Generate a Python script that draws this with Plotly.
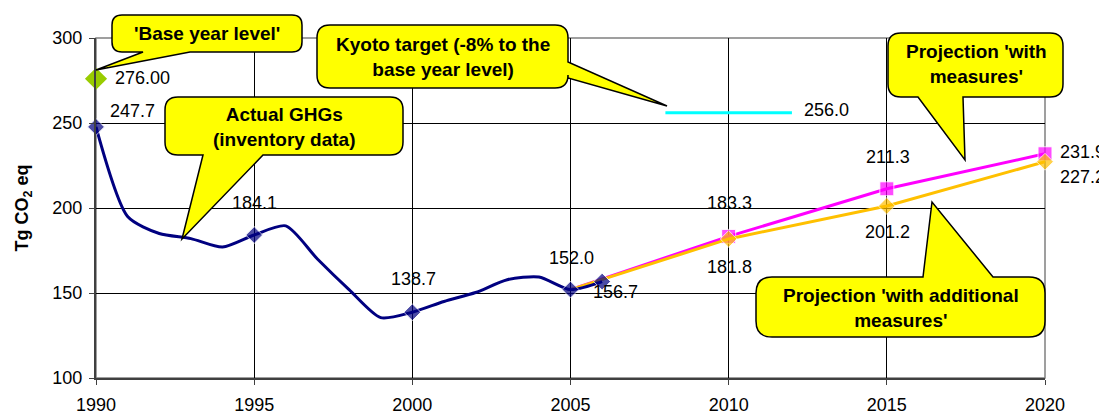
import plotly.graph_objects as go

# ---------------- data ----------------
YEARS_ACTUAL = list(range(1990, 2007))
GHG_ACTUAL = [247.7, 195.0, 185.0, 182.0, 177.0, 184.1, 189.5, 170.0, 152.0,
              135.5, 138.7, 145.0, 150.3, 157.8, 159.4, 152.0, 156.7]
LABELED_YEARS = [1990, 1995, 2000, 2005, 2006]

PROJ_YEARS = [2005, 2010, 2015, 2020]
WITH_MEASURES = [152.0, 183.3, 211.3, 231.9]
WITH_ADDITIONAL = [152.0, 181.8, 201.2, 227.2]

BASE_YEAR = [1990]
BASE_LEVEL = [276.00]

KYOTO_YEARS = [2008, 2012]
KYOTO_LEVEL = [256.0, 256.0]

X_TICKS = [1990, 1995, 2000, 2005, 2010, 2015, 2020]
Y_TICKS = [100, 150, 200, 250, 300]

CALLOUT_TEXTS = ["'Base year level'",
                 "Kyoto target (-8% to the<br>base year level)",
                 "Actual GHGs<br>(inventory data)",
                 "Projection 'with<br>measures'",
                 "Projection 'with additional<br>measures'"]

# ---------------- layout geometry (window pixels) ----------------
WIN_W, WIN_H = 1107, 414
OFF = 8                      # default page body margin
W_FIG, H_FIG = WIN_W - OFF, WIN_H - OFF
L, R, T, B = 96, 1045, 38, 378   # plot area in window pixels
PW, PH = R - L, B - T
FONT = "Liberation Sans, Arial, sans-serif"


def p(x, y):
    return (x - L) / PW, (B - y) / PH


def callout_path(x0, y0, x1, y1, r, side, a, b, tip):
    pts = []

    def M(x, y):
        pts.append("M%.5f,%.5f" % p(x, y))

    def Lt(x, y):
        pts.append("L%.5f,%.5f" % p(x, y))

    def Q(cx, cy, x, y):
        c = p(cx, cy)
        e = p(x, y)
        pts.append("Q%.5f,%.5f %.5f,%.5f" % (c[0], c[1], e[0], e[1]))

    M(x0 + r, y0)
    if side == "top":
        Lt(a, y0); Lt(*tip); Lt(b, y0)
    Lt(x1 - r, y0); Q(x1, y0, x1, y0 + r)
    if side == "right":
        Lt(x1, a); Lt(*tip); Lt(x1, b)
    Lt(x1, y1 - r); Q(x1, y1, x1 - r, y1)
    if side == "bottom":
        Lt(b, y1); Lt(*tip); Lt(a, y1)
    Lt(x0 + r, y1); Q(x0, y1, x0, y1 - r)
    Lt(x0, y0 + r); Q(x0, y0, x0 + r, y0)
    pts.append("Z")
    return " ".join(pts)


# box (x0,y0,x1,y1), radius, pointer side, a, b, tip, text centre
CALLOUTS = [
    ((112, 15, 302, 52), 10, "bottom", 143, 190, (96, 70), (207, 33.5)),
    ((317, 25, 568, 88), 13, "right", 62, 78, (667, 106), (442.5, 57)),
    ((165, 97, 403, 155), 13, "bottom", 203, 263, (182, 239), (284.5, 127)),
    ((888, 33, 1063, 97), 13, "bottom", 918, 963, (965, 160), (976, 64.5)),
    ((756, 277, 1045, 337), 16, "top", 923, 993, (932, 202), (900.5, 307.5)),
]

fig = go.Figure()

# projections
fig.add_trace(go.Scatter(
    x=PROJ_YEARS, y=WITH_MEASURES, mode="lines+markers",
    line=dict(color="#FF00FF", width=3),
    marker=dict(symbol="square", size=[0 if yr == 2005 else 14 for yr in PROJ_YEARS],
                color="#FF00FF"),
    cliponaxis=False, showlegend=False, hoverinfo="skip"))
fig.add_trace(go.Scatter(
    x=PROJ_YEARS, y=WITH_ADDITIONAL, mode="lines+markers",
    line=dict(color="#FFC000", width=3),
    marker=dict(symbol="diamond", size=[0 if yr == 2005 else 13 for yr in PROJ_YEARS],
                color="#FFC000"),
    cliponaxis=False, showlegend=False, hoverinfo="skip"))

# actual inventory
fig.add_trace(go.Scatter(
    x=YEARS_ACTUAL, y=GHG_ACTUAL, mode="lines+markers",
    line=dict(color="#000080", width=3, shape="spline", smoothing=0.7),
    marker=dict(symbol="diamond",
                size=[13 if yr in LABELED_YEARS else 0 for yr in YEARS_ACTUAL],
                color="#000080"),
    cliponaxis=False, showlegend=False, hoverinfo="skip"))

# base year
fig.add_trace(go.Scatter(
    x=BASE_YEAR, y=BASE_LEVEL, mode="markers",
    marker=dict(symbol="diamond", size=17, color="#99CC00"),
    cliponaxis=False, showlegend=False, hoverinfo="skip"))

# kyoto target
fig.add_trace(go.Scatter(
    x=KYOTO_YEARS, y=KYOTO_LEVEL, mode="lines",
    line=dict(color="#00FFFF", width=3),
    cliponaxis=False, showlegend=False, hoverinfo="skip"))

shapes = []
# plot-area border (top/right grey)
shapes.append(dict(type="rect", xref="paper", yref="paper", x0=0, x1=1, y0=0, y1=1,
                   line=dict(color="#808080", width=1.5), layer="between"))
for box, r, side, a, b, tip, _ in CALLOUTS:
    shapes.append(dict(type="path", xref="paper", yref="paper",
                       path=callout_path(*box, r, side, a, b, tip),
                       fillcolor="#FFFF00", line=dict(color="black", width=1.5),
                       layer="above"))

annotations = []
lab_font = dict(family=FONT, size=18, color="black")


def label(x, y, text, dx, dy):
    annotations.append(dict(x=x, y=y, xref="x", yref="y", text=text, showarrow=False,
                            xshift=dx, yshift=dy, font=lab_font,
                            xanchor="center", yanchor="middle"))


actual_offsets = {1990: (36, 16), 1995: (0, 32), 2000: (1, 33), 2005: (1, 32), 2006: (13, -10)}
for yr, v in zip(YEARS_ACTUAL, GHG_ACTUAL):
    if yr in actual_offsets:
        label(yr, v, "%.1f" % v, *actual_offsets[yr])

wm_offsets = {2010: (1, 33), 2015: (1, 32), 2020: (37, 2)}
for yr, v in zip(PROJ_YEARS, WITH_MEASURES):
    if yr in wm_offsets:
        label(yr, v, "%.1f" % v, *wm_offsets[yr])

wa_offsets = {2010: (1, -28), 2015: (1, -26), 2020: (37, -15)}
for yr, v in zip(PROJ_YEARS, WITH_ADDITIONAL):
    if yr in wa_offsets:
        label(yr, v, "%.1f" % v, *wa_offsets[yr])

label(BASE_YEAR[0], BASE_LEVEL[0], "%.2f" % BASE_LEVEL[0], 46, 1)
label(KYOTO_YEARS[-1], KYOTO_LEVEL[-1], "%.1f" % KYOTO_LEVEL[-1], 35, 3)

for (box, r, side, a, b, tip, c), txt in zip(CALLOUTS, CALLOUT_TEXTS):
    cx, cy = p(*c)
    annotations.append(dict(x=cx, y=cy, xref="paper", yref="paper", text="<b>%s</b>" % txt,
                            showarrow=False, xanchor="center", yanchor="middle",
                            align="center",
                            font=dict(family=FONT, size=19, color="black")))

fig.update_layout(
    width=W_FIG, height=H_FIG, autosize=False,
    margin=dict(l=L - OFF, r=W_FIG - (R - OFF), t=T - OFF, b=H_FIG - (B - OFF), pad=0),
    paper_bgcolor="white", plot_bgcolor="white",
    font=dict(family=FONT, size=18, color="black"),
    shapes=shapes, annotations=annotations, showlegend=False,
    xaxis=dict(range=[1990, 2020], tickvals=X_TICKS, ticktext=[str(t) for t in X_TICKS],
               showgrid=True, gridcolor="#000000", gridwidth=1, automargin=False,
               showline=True, linecolor="#404040", linewidth=2,
               ticks="outside", ticklen=5, tickcolor="#404040", tickwidth=1,
               ticklabelstandoff=4,
               zeroline=False, tickfont=dict(family=FONT, size=18, color="black")),
    yaxis=dict(range=[100, 300], tickvals=Y_TICKS, ticktext=[str(t) for t in Y_TICKS],
               showgrid=True, gridcolor="#000000", gridwidth=1, automargin=False,
               showline=True, linecolor="#404040", linewidth=2,
               ticks="outside", ticklen=5, tickcolor="#404040", tickwidth=1,
               ticklabelstandoff=3,
               zeroline=False, tickfont=dict(family=FONT, size=18, color="black"),
               title=dict(text="<b>Tg CO<sub>2</sub> eq</b>", standoff=19,
                          font=dict(family=FONT, size=18, color="black"))),
)

fig.write_html("out.html")
